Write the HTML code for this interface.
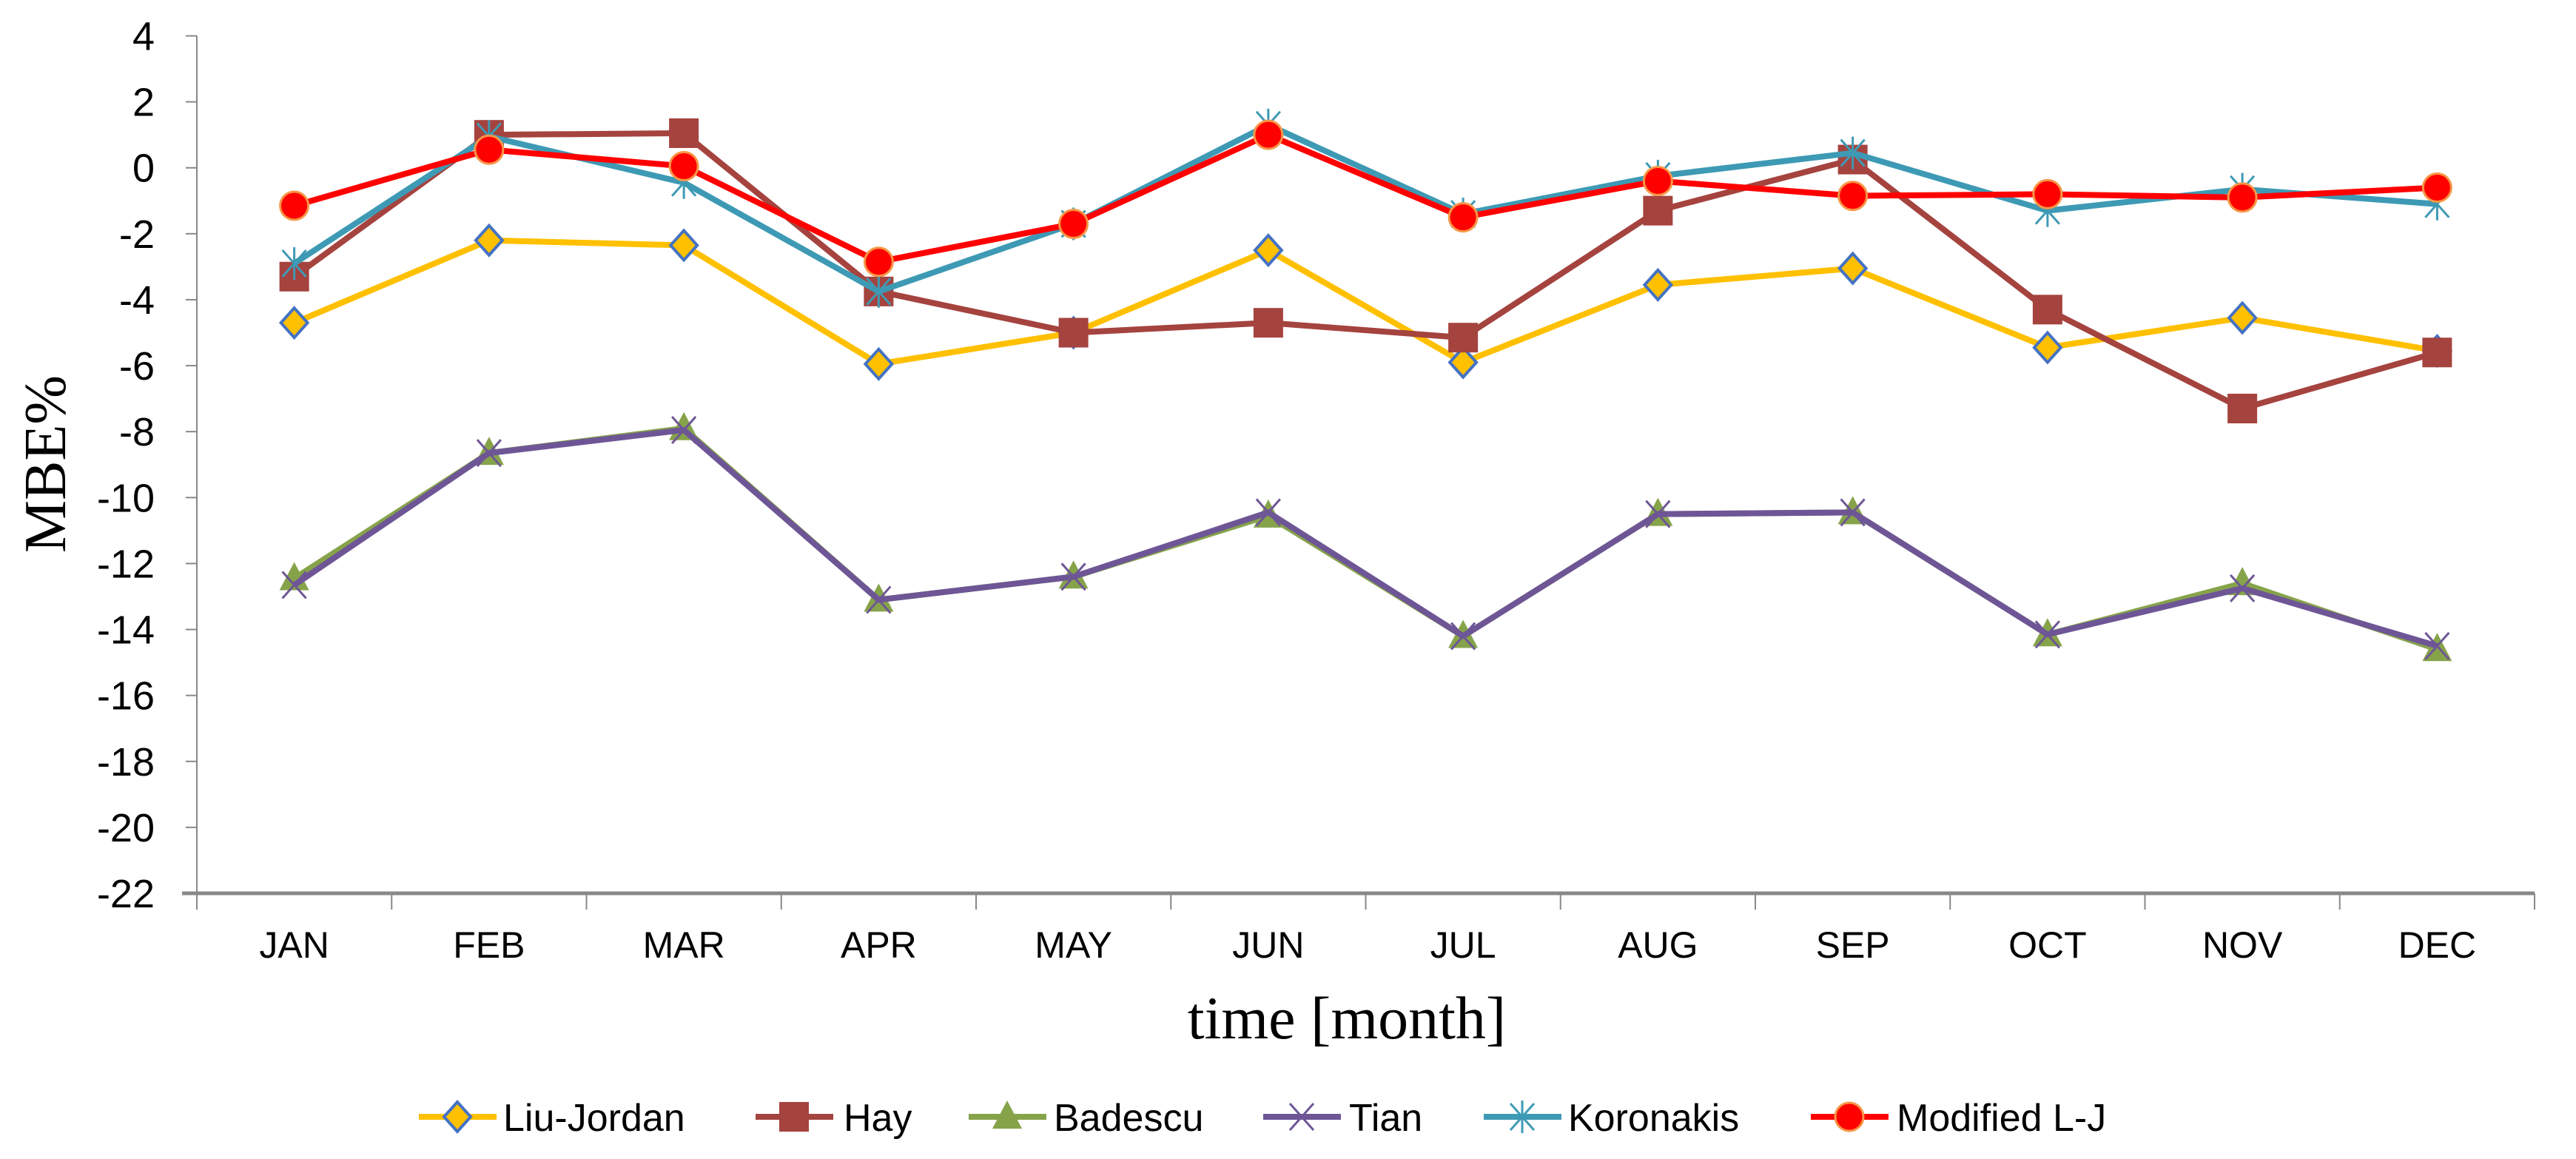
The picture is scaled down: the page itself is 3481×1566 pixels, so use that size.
<!DOCTYPE html>
<html><head><meta charset="utf-8"><style>
html,body{margin:0;padding:0;background:#fff;}
svg{display:block;}
</style></head><body>
<svg id="chart" width="3481" height="1566" xmlns="http://www.w3.org/2000/svg"></svg>
<script>
const months = ["JAN","FEB","MAR","APR","MAY","JUN","JUL","AUG","SEP","OCT","NOV","DEC"];
const yTicks = [4,2,0,-2,-4,-6,-8,-10,-12,-14,-16,-18,-20,-22];
const liuJordan = [-4.7,-2.2,-2.35,-5.95,-5.0,-2.5,-5.9,-3.55,-3.05,-5.45,-4.55,-5.55];
const hay = [-3.3,1.0,1.05,-3.75,-5.0,-4.7,-5.15,-1.3,0.25,-4.3,-7.3,-5.6];
const badescu = [-12.45,-8.65,-7.9,-13.1,-12.4,-10.55,-14.2,-10.5,-10.45,-14.15,-12.6,-14.6];
const tian = [-12.65,-8.65,-7.95,-13.1,-12.4,-10.45,-14.2,-10.5,-10.45,-14.15,-12.75,-14.5];
const koronakis = [-2.9,0.95,-0.45,-3.75,-1.7,1.3,-1.4,-0.25,0.45,-1.3,-0.65,-1.1];
const modifiedLJ = [-1.15,0.55,0.05,-2.85,-1.7,1.0,-1.5,-0.4,-0.85,-0.8,-0.9,-0.6];

const NS="http://www.w3.org/2000/svg";
const svg=document.getElementById('chart');
const X0=266,X1=3425,Y4=48.5,Y22=1207;
const yMin=-22,yMax=4;
function yS(v){return Y22-(v-yMin)/(yMax-yMin)*(Y22-Y4);}
const bw=(X1-X0)/months.length;
function xS(i){return X0+bw*(i+0.5);}
function mk(tag,attrs,parent){const e=document.createElementNS(NS,tag);for(const k in attrs)e.setAttribute(k,attrs[k]);(parent||svg).appendChild(e);return e;}

const ax=mk('line',{x1:X0,y1:Y4,x2:X0,y2:Y22,stroke:'#888','stroke-width':2});


const xa=mk('line',{x1:X0-20,y1:Y22,x2:X1,y2:Y22,stroke:'#888','stroke-width':5});


yTicks.forEach(v=>{
  const y=yS(v);
  const t=mk('line',{x1:X0-15,y1:y,x2:X0,y2:y,stroke:'#888','stroke-width':2});
  
  
  const l=mk('text',{x:209,y:y+19,'text-anchor':'end','font-family':'Liberation Sans, sans-serif','font-size':54,fill:'#000'});
  l.textContent=v;
  
  
});
for(let i=0;i<=months.length;i++){
  const x=X0+bw*i;
  const t=mk('line',{x1:x,y1:Y22,x2:x,y2:Y22+22,stroke:'#888','stroke-width':2});
  
  
}
months.forEach((m,i)=>{
  const l=mk('text',{x:xS(i),y:1294,'text-anchor':'middle','font-family':'Liberation Sans, sans-serif','font-size':50,fill:'#000'});
  l.textContent=m;
  
  
});
const xt=mk('text',{x:1820,y:1403,'text-anchor':'middle','font-family':'Liberation Serif, serif','font-size':82,fill:'#000'});
xt.textContent='time [month]';


const yt=mk('text',{x:0,y:0,'text-anchor':'middle','font-family':'Liberation Serif, serif','font-size':80,fill:'#000',transform:'translate(88,627) rotate(-90)'});
yt.textContent='MBE%';



function marker(type,x,y,color,g){
  if(type==='diamond') mk('polygon',{points:`${x},${y-20} ${x+18},${y} ${x},${y+20} ${x-18},${y}`,fill:'#FFC000',stroke:'#4472C4','stroke-width':4},g);
  else if(type==='square') mk('rect',{x:x-20,y:y-20,width:40,height:40,fill:color},g);
  else if(type==='triangle') mk('polygon',{points:`${x},${y-22} ${x+20},${y+16} ${x-20},${y+16}`,fill:color},g);
  else if(type==='x'){mk('line',{x1:x-16,y1:y-18,x2:x+16,y2:y+18,stroke:color,'stroke-width':3},g);mk('line',{x1:x+16,y1:y-18,x2:x-16,y2:y+18,stroke:color,'stroke-width':3},g);}
  else if(type==='star'){mk('line',{x1:x-16,y1:y-18,x2:x+16,y2:y+18,stroke:color,'stroke-width':3},g);mk('line',{x1:x+16,y1:y-18,x2:x-16,y2:y+18,stroke:color,'stroke-width':3},g);mk('line',{x1:x,y1:y-22,x2:x,y2:y+22,stroke:color,'stroke-width':3},g);}
  else if(type==='circle') mk('circle',{cx:x,cy:y,r:19,fill:'#FF0000',stroke:'#F79646','stroke-width':3},g);
}
const series=[
 {name:'Liu-Jordan',data:liuJordan,color:'#FFC000',m:'diamond',key:'liu-jordan'},
 {name:'Hay',data:hay,color:'#A5433F',m:'square',key:'hay'},
 {name:'Badescu',data:badescu,color:'#86A34A',m:'triangle',key:'badescu'},
 {name:'Tian',data:tian,color:'#6E5696',m:'x',key:'tian'},
 {name:'Koronakis',data:koronakis,color:'#3E9AB4',m:'star',key:'koronakis'},
 {name:'Modified L-J',data:modifiedLJ,color:'#FF0000',m:'circle',key:'modified-lj'}
];
series.forEach(s=>{
  const g=mk('g',{});
  
  
  const pts=s.data.map((v,i)=>xS(i)+','+yS(v)).join(' ');
  mk('polyline',{points:pts,fill:'none',stroke:s.color,'stroke-width':8,'stroke-linejoin':'round'},g);
  s.data.forEach((v,i)=>marker(s.m,xS(i),yS(v),s.color,g));
});
const legX=[566,1021,1309,1707,2005,2447];
const legTextX=[680,1140,1424,1823,2119,2563];
series.forEach((s,i)=>{
  const g=mk('g',{});
  
  
  const cy=1509;
  mk('line',{x1:legX[i],y1:cy,x2:legX[i]+105,y2:cy,stroke:s.color,'stroke-width':8},g);
  marker(s.m,legX[i]+52,cy,s.color,g);
  const t=mk('text',{x:legTextX[i],y:cy+19,'font-family':'Liberation Sans, sans-serif','font-size':52,fill:'#000'},g);
  t.textContent=s.name;
});
</script>
</body></html>
